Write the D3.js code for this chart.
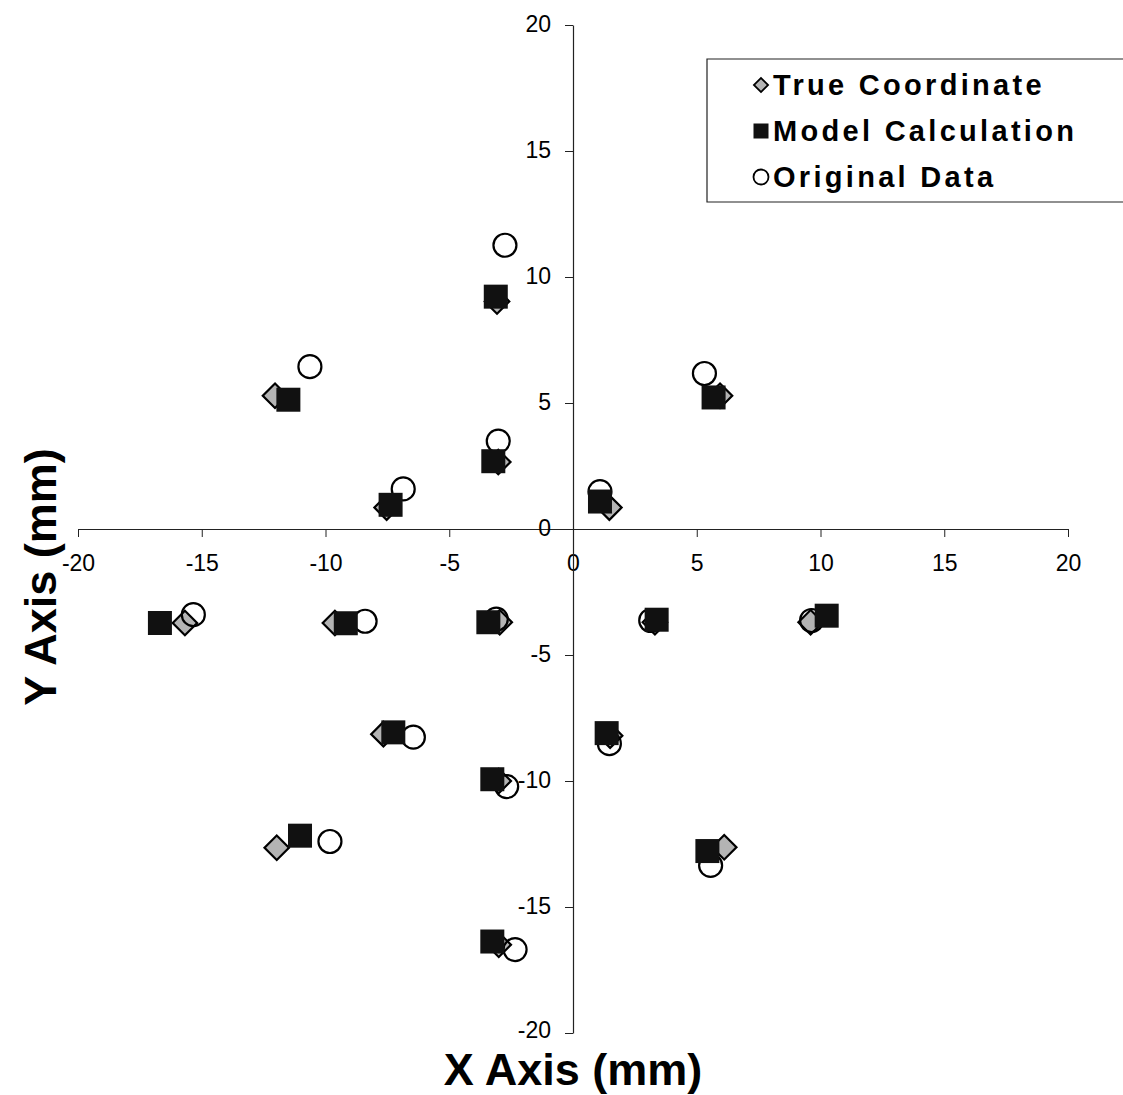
<!DOCTYPE html>
<html>
<head>
<meta charset="utf-8">
<script src="https://cdn.jsdelivr.net/npm/d3@7"></script>
<style>
	body { margin: 0; background: #fff; }
	#chart { width: 1123px; height: 1095px; }
	.tick text { font-family: "Liberation Sans", Arial, sans-serif; font-size: 23px; fill: #000; }
	.axisTitle { font-family: "Liberation Sans", Arial, sans-serif; font-weight: bold; font-size: 45px; fill: #000; }
	.legendText { font-family: "Liberation Sans", Arial, sans-serif; font-weight: bold; font-size: 29px; letter-spacing: 3.3px; fill: #000; }
</style>
</head>
<body>
<div id="chart"></div>
<script>
"use strict"

// values, in mm
let trueX = [-3.07, -12.04, -7.53, -3.02, 5.94, 1.47, -15.68, -9.62, -2.96, 3.31, 9.6, -7.66, -3.0, -11.97, 1.5, 6.11, -3.0];
let trueY = [9.03, 5.29, 0.85, 2.66, 5.29, 0.85, -3.73, -3.73, -3.70, -3.70, -3.70, -8.14, -10.0, -12.65, -8.2, -12.63, -16.5];

let modelX = [-3.12, -11.5, -7.37, -3.22, 5.68, 1.09, -16.69, -9.18, -3.42, 3.38, 10.25, -7.26, -3.26, -11.03, 1.36, 5.43, -3.26];
let modelY = [9.22, 5.13, 0.96, 2.69, 5.22, 1.09, -3.73, -3.74, -3.70, -3.6, -3.44, -8.07, -9.93, -12.17, -8.1, -12.78, -16.37];

let origX = [-2.75, -10.63, -6.86, -3.02, 5.31, 1.09, -15.34, -8.4, -3.1, 3.14, 9.64, -6.45, -2.68, -9.82, 1.47, 5.56, -2.34];
let origY = [11.26, 6.44, 1.59, 3.49, 6.17, 1.48, -3.40, -3.66, -3.58, -3.63, -3.63, -8.26, -10.22, -12.40, -8.52, -13.35, -16.69];

let xTicks = [-20, -15, -10, -5, 0, 5, 10, 15, 20];
let yTicks = [-20, -15, -10, -5, 0, 5, 10, 15, 20];
let seriesNames = ["True Coordinate", "Model Calculation", "Original Data"];

let ScatterView = function(targetID) {
	let self = {
		targetID: targetID,
		svg: null,
		xScale: d3.scaleLinear().domain([-20, 20]).range([78, 1068]),
		yScale: d3.scaleLinear().domain([-20, 20]).range([1033, 25]),
		diamondFill: "#b4b4b4",
		markFill: "#111",
	};

	function pts(xs, ys) {
		return xs.map((x, i) => ({x: x, y: ys[i]}));
	}

	function draw() {
		self.svg = d3.select(self.targetID).append("svg")
			.attr("width", 1123)
			.attr("height", 1095);

		drawAxes();
		drawPoints();
		drawLegend();
	}

	function drawAxes() {
		let x0 = self.xScale(0), y0 = self.yScale(0);
		let plain = d => String(d);   // hyphen minus, as in the original

		let xAxis = self.svg.append("g")
			.attr("transform", `translate(0,${y0})`)
			.call(d3.axisBottom(self.xScale).tickValues(xTicks).tickFormat(plain)
				.tickSize(8).tickSizeOuter(0).tickPadding(18));
		xAxis.select(".domain").attr("stroke", "#222").attr("stroke-width", 1.2);
		xAxis.selectAll(".tick line").attr("stroke", "#222");

		let yAxis = self.svg.append("g")
			.attr("transform", `translate(${x0},0)`)
			.call(d3.axisLeft(self.yScale).tickValues(yTicks).tickFormat(plain)
				.tickSize(8).tickSizeOuter(0).tickPadding(14));
		yAxis.select(".domain").attr("stroke", "#222").attr("stroke-width", 1.2);
		yAxis.selectAll(".tick line").attr("stroke", "#222");
		yAxis.selectAll(".tick text").attr("dy", d => d == -20 ? "0.2em" : "0.3em");

		self.svg.append("text")
			.attr("class", "axisTitle")
			.attr("x", x0)
			.attr("y", 1085)
			.attr("text-anchor", "middle")
			.text("X Axis (mm)");

		self.svg.append("text")
			.attr("class", "axisTitle")
			.attr("transform", "translate(56,577) rotate(-90)")
			.attr("text-anchor", "middle")
			.text("Y Axis (mm)");
	}

	function drawPoints() {
		let g = self.svg.append("g");
		let diamond = d3.symbol().type(d3.symbolSquare).size(300);

		g.selectAll(".trueMark")
			.data(pts(trueX, trueY))
			.enter().append("path")
				.attr("class", "trueMark")
				.attr("d", diamond)
				.attr("transform", d => `translate(${self.xScale(d.x)},${self.yScale(d.y)}) rotate(45)`)
				.attr("fill", self.diamondFill)
				.attr("stroke", "#000")
				.attr("stroke-width", 2.2);

		g.selectAll(".origMark")
			.data(pts(origX, origY))
			.enter().append("circle")
				.attr("class", "origMark")
				.attr("cx", d => self.xScale(d.x))
				.attr("cy", d => self.yScale(d.y))
				.attr("r", 11.5)
				.attr("fill", "none")
				.attr("stroke", "#000")
				.attr("stroke-width", 2.2);

		g.selectAll(".modelMark")
			.data(pts(modelX, modelY))
			.enter().append("rect")
				.attr("class", "modelMark")
				.attr("x", d => self.xScale(d.x) - 12)
				.attr("y", d => self.yScale(d.y) - 12)
				.attr("width", 24)
				.attr("height", 24)
				.attr("fill", self.markFill);
	}

	function drawLegend() {
		let lg = self.svg.append("g");

		lg.append("path")
			.attr("d", "M1130,59 H707 V202 H1130")
			.attr("fill", "#fff")
			.attr("stroke", "#222")
			.attr("stroke-width", 1.2);

		let rows = lg.selectAll(".legRow")
			.data(seriesNames)
			.enter().append("g")
				.attr("class", "legRow")
				.attr("transform", (d, i) => `translate(761,${85 + i * 46})`);

		rows.filter((d, i) => i == 0).append("path")
			.attr("d", d3.symbol().type(d3.symbolSquare).size(100))
			.attr("transform", "rotate(45)")
			.attr("fill", self.diamondFill)
			.attr("stroke", "#000")
			.attr("stroke-width", 1.8);

		rows.filter((d, i) => i == 1).append("rect")
			.attr("x", -7.5).attr("y", -7.5)
			.attr("width", 15).attr("height", 15)
			.attr("fill", self.markFill);

		rows.filter((d, i) => i == 2).append("circle")
			.attr("r", 7.5)
			.attr("fill", "#fff")
			.attr("stroke", "#000")
			.attr("stroke-width", 1.8);

		rows.append("text")
			.attr("class", "legendText")
			.attr("x", 12)
			.attr("y", 10)
			.text(d => d);
	}

	return {
		draw,
	};
}

ScatterView("#chart").draw();
</script>
</body>
</html>
